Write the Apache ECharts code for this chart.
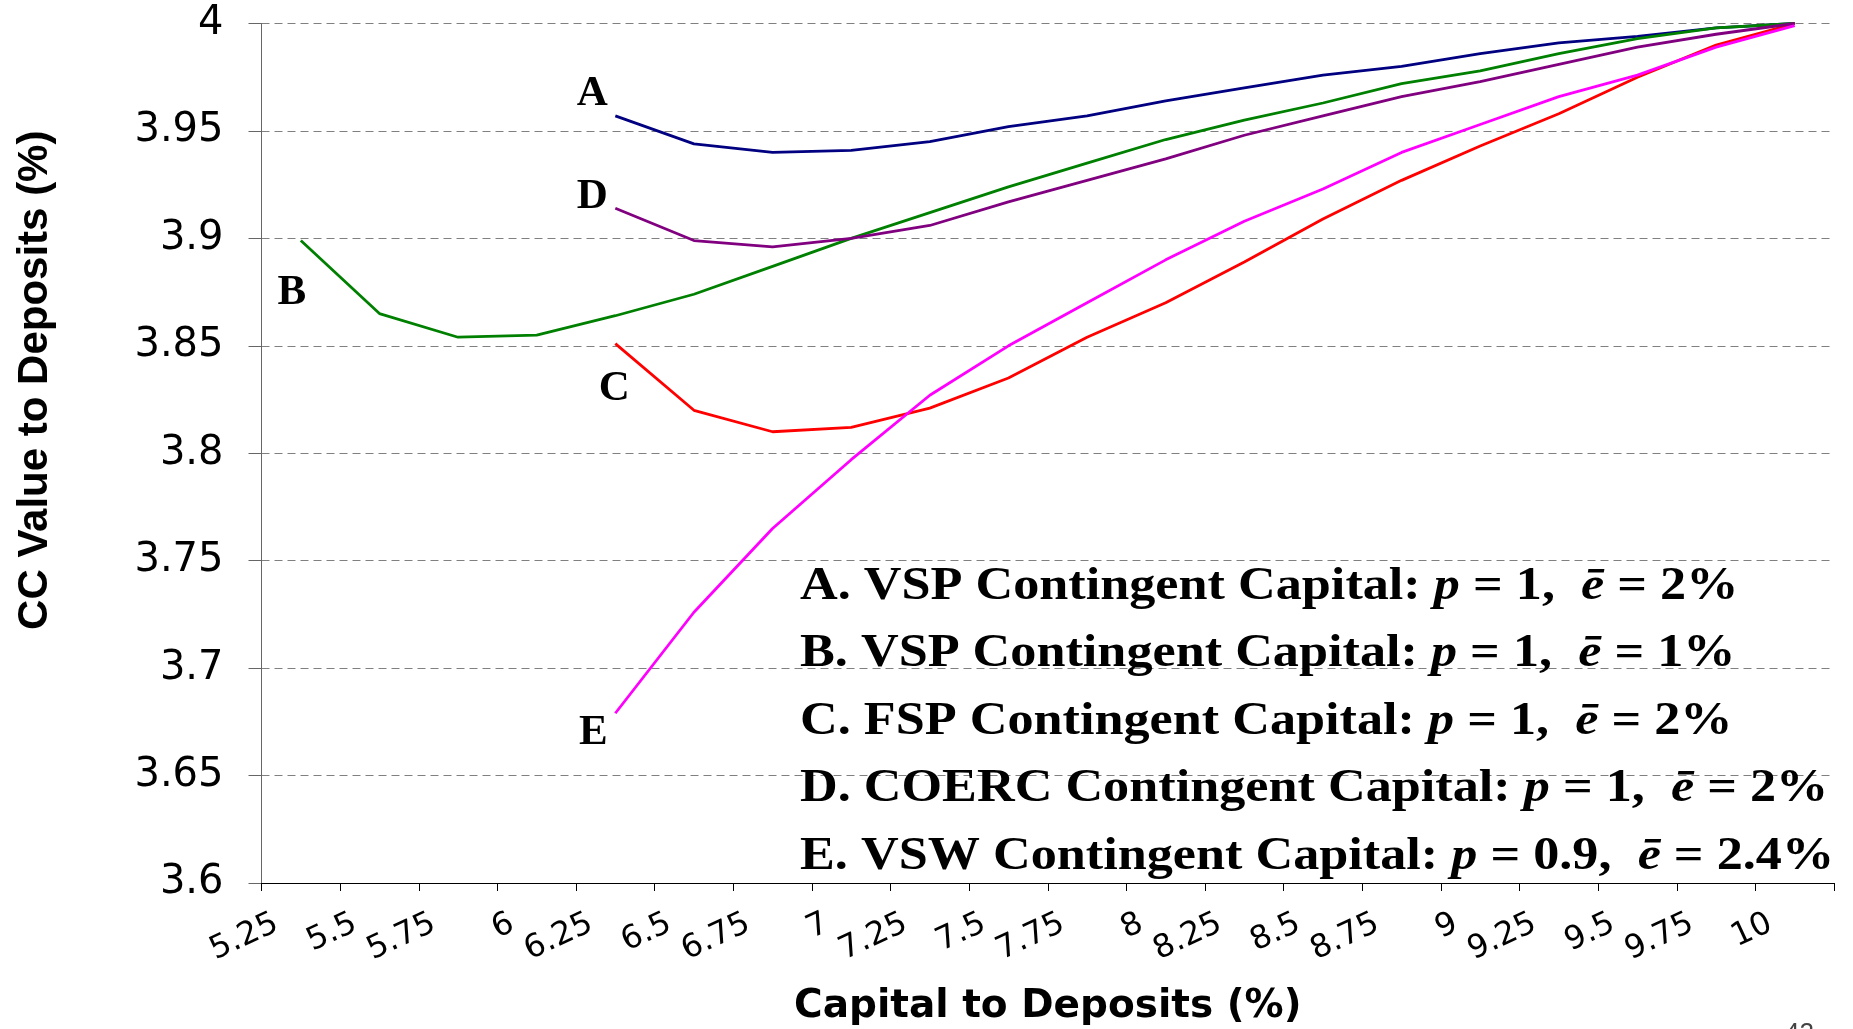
<!DOCTYPE html>
<html>
<head>
<meta charset="utf-8">
<title>CC Value to Deposits</title>
<script src="https://cdn.jsdelivr.net/npm/echarts@6.0.0/dist/echarts.min.js"></script>
<style>
    html, body { margin: 0; padding: 0; background: #fff; }
    #cc_chart { width: 1853px; height: 1029px; }
</style>
</head>
<body>
<div id="cc_chart"></div>
<script>
// capital to deposits (%) categories, also used as tick labels
var xLabels = ['5.25', '5.5', '5.75', '6', '6.25', '6.5', '6.75', '7', '7.25', '7.5',
    '7.75', '8', '8.25', '8.5', '8.75', '9', '9.25', '9.5', '9.75', '10'];

// CC value to deposits (%)
var seriesA = [null, null, null, null, 3.957, 3.944, 3.940, 3.941, 3.945, 3.952,
    3.957, 3.964, 3.970, 3.976, 3.980, 3.986, 3.991, 3.994, 3.998, 4.000];
var seriesB = [3.899, 3.865, 3.854, 3.855, 3.864, 3.874, 3.887, 3.900, 3.912, 3.924,
    3.935, 3.946, 3.955, 3.963, 3.972, 3.978, 3.986, 3.993, 3.998, 4.000];
var seriesC = [null, null, null, null, 3.851, 3.820, 3.810, 3.812, 3.821, 3.835,
    3.854, 3.870, 3.889, 3.909, 3.927, 3.943, 3.958, 3.975, 3.990, 4.000];
var seriesD = [null, null, null, null, 3.914, 3.899, 3.896, 3.900, 3.906, 3.917,
    3.927, 3.937, 3.948, 3.957, 3.966, 3.973, 3.981, 3.989, 3.995, 4.000];
var seriesE = [null, null, null, null, 3.679, 3.726, 3.765, 3.797, 3.827, 3.850,
    3.870, 3.890, 3.908, 3.923, 3.940, 3.953, 3.966, 3.976, 3.989, 3.999];

var seriesTags = ['A', 'B', 'C', 'D', 'E'];

// legend text block
var legendNames = ['A. VSP Contingent Capital:', 'B. VSP Contingent Capital:', 'C. FSP Contingent Capital:',
    'D. COERC Contingent Capital:', 'E. VSW Contingent Capital:'];
var legendP = ['1', '1', '1', '1', '0.9'];
var legendE = ['2%', '1%', '2%', '2%', '2.4%'];

var yMin = 3.6, yMax = 4, yStep = 0.05;

window.onload = function () {
    drawChart();
};

function firstIndex(arr) {
    for (var i = 0; i < arr.length; i++) {
        if (arr[i] != null) return i;
    }
    return 0;
}

function drawChart() {
    var myChart = echarts.init(document.getElementById('cc_chart'), null, {renderer: 'canvas'});

    var colors = ['#000080', '#008000', '#ff0000', '#800080', '#ff00ff'];
    var allData = [seriesA, seriesB, seriesC, seriesD, seriesE];
    // where the A..E letters sit relative to the first point of each line
    var tagOffsets = [[-23, -22], [-9, 52], [-1, 45], [-23, -11], [-22, 20]];

    var series = [];
    for (var s = 0; s < allData.length; s++) {
        var first = firstIndex(allData[s]);
        var data = allData[s].map(function (v, i) {
            if (i !== first) return v;
            return {
                value: v,
                label: {
                    show: true,
                    position: 'inside',
                    formatter: seriesTags[s],
                    offset: tagOffsets[s],
                    fontFamily: 'Liberation Serif',
                    fontWeight: 'bold',
                    fontSize: 43,
                    color: '#000'
                }
            };
        });
        series.push({
            name: seriesTags[s],
            type: 'line',
            xAxisIndex: 0,
            data: data,
            symbol: 'circle',
            symbolSize: 0,
            showSymbol: true,
            showAllSymbol: true,
            lineStyle: {color: colors[s], width: 2.8},
            itemStyle: {color: colors[s]},
            emphasis: {disabled: true}
        });
    }

    // tick labels are drawn by a second (value) axis so they can sit a bit right of each tick
    var labelValues = xLabels.map(function (t) { return parseFloat(t); });
    var step = 0.25, nudge = 0.048;

    var legendGraphics = legendNames.map(function (name, i) {
        return {
            type: 'text',
            x: 800,
            y: 587 + 67.5 * i,
            scaleX: 1.135,
            z: 10,
            style: {
                text: '{n|' + name + ' }{i|p}{n| = ' + legendP[i] + ',  }{i|\u0113}{n| = ' + legendE[i] + '}',
                align: 'left',
                verticalAlign: 'middle',
                rich: {
                    n: {fontFamily: 'Liberation Serif', fontWeight: 'bold', fontSize: 46, fill: '#000'},
                    i: {fontFamily: 'Liberation Serif', fontWeight: 'bold', fontStyle: 'italic', fontSize: 46, fill: '#000'}
                }
            }
        };
    });
    legendGraphics.push({
        type: 'text',
        x: 1785,
        y: 1021,
        style: {text: '42', fontFamily: 'Liberation Sans', fontSize: 26, fill: '#444', align: 'left', verticalAlign: 'top'}
    });

    var option = {
        backgroundColor: '#fff',
        animation: false,
        grid: {left: 261.5, right: 19, top: 23.5, bottom: 146, containLabel: false, outerBoundsMode: 'none'},
        xAxis: [
            {
                type: 'category',
                position: 'bottom',
                data: xLabels,
                boundaryGap: true,
                axisLine: {lineStyle: {color: '#000', width: 1}},
                axisTick: {show: true, length: 8, interval: 0, lineStyle: {color: '#000'}},
                axisLabel: {show: false},
                splitLine: {show: false},
                name: 'Capital to Deposits (%)',
                nameLocation: 'middle',
                nameGap: 104,
                nameTextStyle: {fontFamily: 'DejaVu Sans', fontWeight: 'bold', fontSize: 39, color: '#000'}
            },
            {
                type: 'value',
                position: 'bottom',
                min: labelValues[0] - nudge,
                max: labelValues[0] - nudge + step * xLabels.length,
                axisLine: {show: false},
                axisTick: {show: false},
                splitLine: {show: false},
                axisLabel: {
                    customValues: labelValues,
                    formatter: function (v) {
                        var k = labelValues.indexOf(v);
                        return k >= 0 ? xLabels[k] : '';
                    },
                    rotate: 25,
                    margin: 39,
                    fontFamily: 'DejaVu Sans',
                    fontSize: 32,
                    color: '#000'
                }
            }
        ],
        yAxis: {
            type: 'value',
            min: yMin,
            max: yMax,
            interval: yStep,
            axisLine: {show: true, lineStyle: {color: '#666', width: 1}},
            axisTick: {show: true, length: 13, lineStyle: {color: '#666'}},
            axisLabel: {
                margin: 38,
                fontFamily: 'DejaVu Sans',
                fontSize: 40,
                color: '#000',
                formatter: function (v) { return String(+v.toFixed(2)); }
            },
            splitLine: {show: true, lineStyle: {color: '#808080', type: [8, 5], width: 1}},
            name: 'CC Value to Deposits (%)',
            nameLocation: 'middle',
            nameRotate: 90,
            nameGap: 205,
            nameTextStyle: {
                fontFamily: 'Liberation Sans',
                fontWeight: 'bold',
                fontSize: 42,
                color: '#000',
                padding: [0, 0, 0, 146]
            }
        },
        graphic: legendGraphics,
        series: series
    };

    myChart.setOption(option);
}
</script>
</body>
</html>
